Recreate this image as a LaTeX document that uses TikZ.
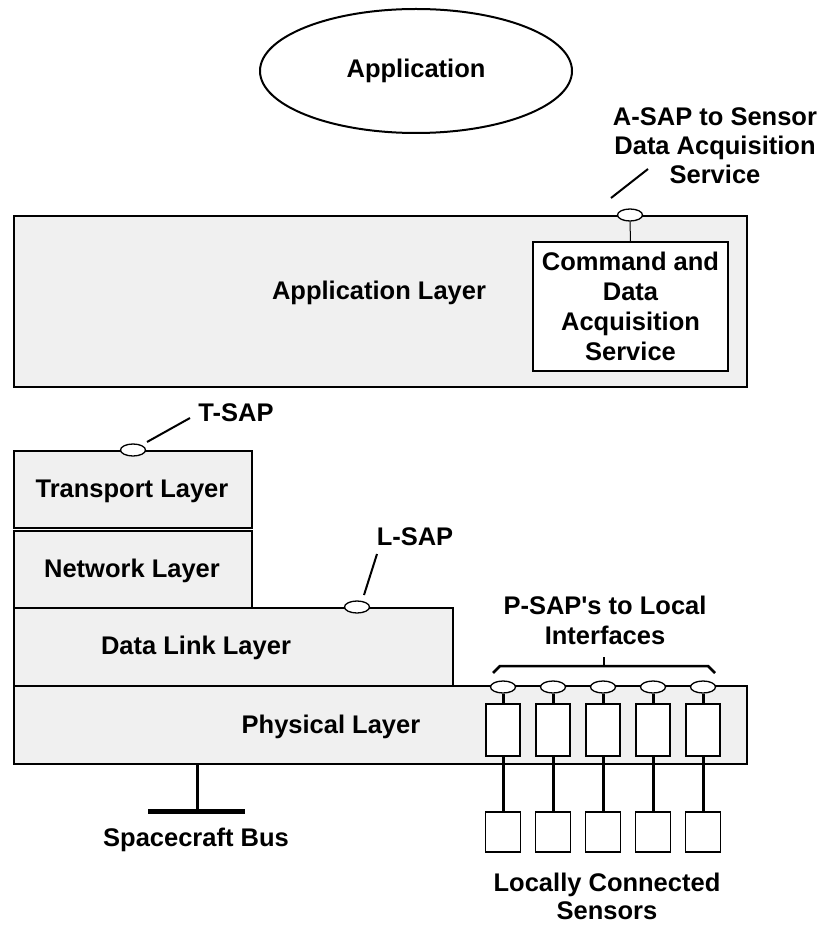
\documentclass[tikz,border=0pt]{standalone}
\usepackage{fontspec}
\setmainfont{Liberation Sans}
\usetikzlibrary{shapes.geometric}
\definecolor{layerfill}{RGB}{240,240,240}
\begin{document}
\begin{tikzpicture}[x=1pt,y=-1pt,
  txt/.style={font=\fontsize{25.5}{29}\selectfont\bfseries, align=center, inner sep=0pt},
  layerbox/.style={draw, line width=1.8pt, fill=layerfill, anchor=north west, inner sep=0pt},
  whitebox/.style={draw, line width=1.3pt, fill=white, inner sep=0pt},
  sap/.style={ellipse, draw, line width=1.3pt, fill=white, minimum width=25pt, minimum height=12pt, inner sep=0pt},
  pointer/.style={line width=2pt},
  wire/.style={line width=3pt}
]
\useasboundingbox (0,0) rectangle (822,925);

% Application process
\node[ellipse, draw, line width=2pt, minimum width=312pt, minimum height=124pt, txt] (app) at (416,71) {Application};

% Application layer with its service
\node[layerbox, minimum width=733pt, minimum height=171pt] (applayer) at (13,215) {};
\node[txt] (applabel) at (379,293) {Application Layer};
\node[whitebox, minimum width=195pt, minimum height=129pt, txt, font=\fontsize{25.5}{30}\selectfont\bfseries] (cmd) at (630.5,306.5) {Command and\\Data\\Acquisition\\Service};
\node[sap] (asap) at (630,215) {};
\draw[line width=1pt] (asap.south) -- (cmd.north);
\node[txt] (asaplabel) at (715,146) {A-SAP to Sensor\\Data Acquisition\\Service};
\coordinate (asapA) at (611,198);
\coordinate (asapB) at (648,169);
\draw[pointer] (asapA) -- (asapB);

% Lower layer stack
\node[layerbox, minimum width=238pt, minimum height=77pt] (transport) at (13,450) {};
\node[txt] at (132,491) {Transport Layer};
\node[layerbox, minimum width=238pt, minimum height=77pt] (network) at (13,530) {};
\node[txt] at (132,571) {Network Layer};
\node[layerbox, minimum width=439pt, minimum height=78pt] (datalink) at (13,607) {};
\node[txt] at (196,648) {Data Link Layer};
\node[layerbox, minimum width=733pt, minimum height=78pt] (physical) at (13,685) {};
\node[txt] at (331,727) {Physical Layer};

% T-SAP
\node[sap] (tsap) at (133,450) {};
\node[txt] (tsaplabel) at (236,413) {T-SAP};
\coordinate (tsapA) at (147,442);
\coordinate (tsapB) at (190,418);
\draw[pointer] (tsapA) -- (tsapB);

% L-SAP
\node[sap] (lsap) at (357,607) {};
\node[txt] (lsaplabel) at (415,537) {L-SAP};
\coordinate (lsapA) at (364,595);
\coordinate (lsapB) at (377,554);
\draw[pointer] (lsapA) -- (lsapB);

% P-SAPs, local interfaces and sensors
\foreach \i/\x in {1/503,2/553,3/603,4/653,5/703}{
  \node[sap] (psap\i) at (\x,687) {};
  \node[whitebox, minimum width=34pt, minimum height=52pt] (iface\i) at (\x,730) {};
  \node[whitebox, minimum width=35pt, minimum height=40pt] (sensor\i) at (\x,832) {};
  \draw[wire] (psap\i.south) -- (iface\i.north);
  \draw[wire] (iface\i.south) -- (sensor\i.north);
}
\coordinate (braceL) at (493,673);
\coordinate (braceL2) at (500,666);
\coordinate (braceR2) at (708,666);
\coordinate (braceR) at (715,673);
\coordinate (braceM) at (604,666);
\coordinate (braceT) at (604,657);
\draw[line width=2.5pt] (braceL) -- (braceL2) -- (braceR2) -- (braceR);
\draw[line width=2.5pt] (braceM) -- (braceT);
\node[txt, font=\fontsize{25.5}{30}\selectfont\bfseries] (psaplabel) at (605,620) {P-SAP\textquotesingle s to Local\\Interfaces};

% Spacecraft bus
\coordinate (busTop) at (197,763);
\coordinate (busMid) at (197,811);
\coordinate (busL) at (148,811);
\coordinate (busR) at (245,811);
\draw[wire] (busTop) -- (busMid);
\draw[line width=5pt] (busL) -- (busR);
\node[txt] (buslabel) at (196,840) {Spacecraft Bus};

\node[txt, font=\fontsize{25.5}{28}\selectfont\bfseries] (sensorlabel) at (607,896) {Locally Connected\\Sensors};
\end{tikzpicture}
\end{document}
